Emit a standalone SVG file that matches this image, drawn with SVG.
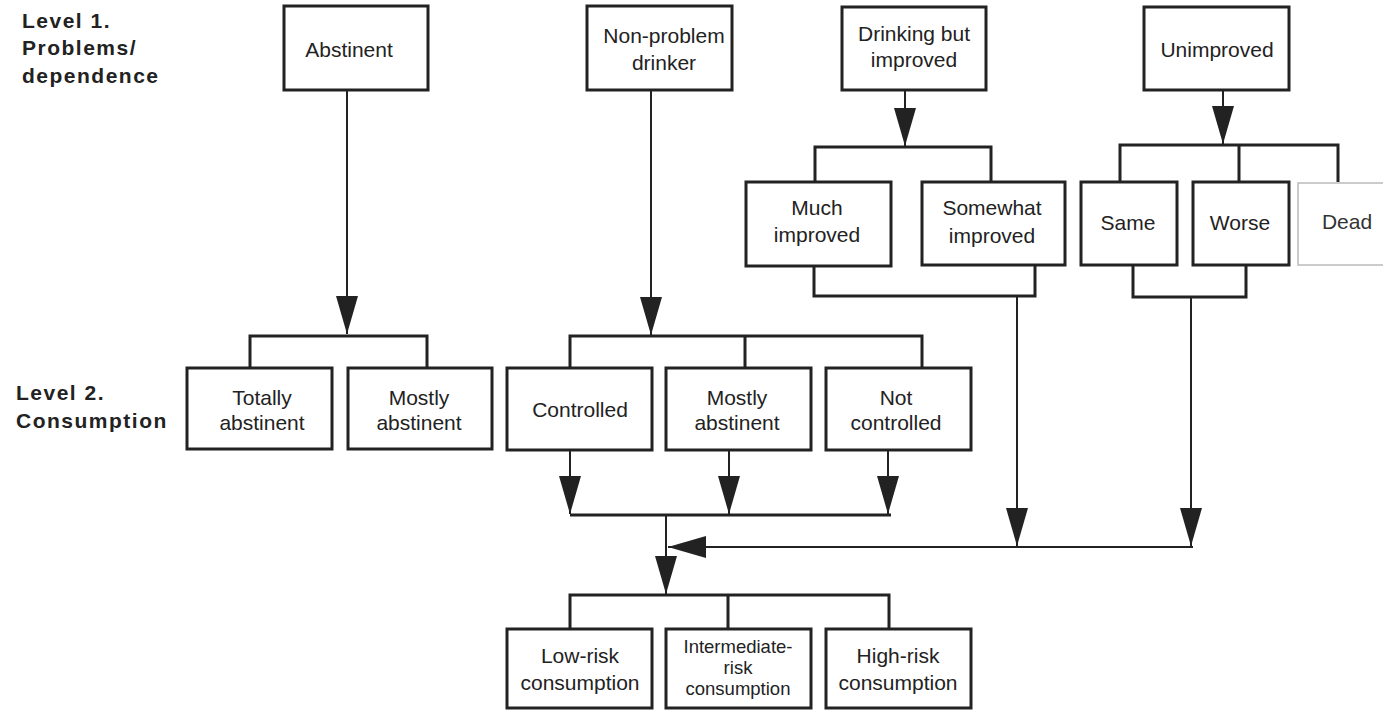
<svg xmlns="http://www.w3.org/2000/svg" width="1383" height="710" viewBox="0 0 1383 710">
<defs>
<style>
.box{fill:#fff;stroke:#222;stroke-width:3}
.dead{fill:#fff;stroke:#bbb;stroke-width:1.5}
.t{font-family:"Liberation Sans",Arial,sans-serif;font-size:21px;fill:#222;text-anchor:middle}
.ts{font-size:18.5px}
.lvl{font-family:"Liberation Sans",Arial,sans-serif;font-size:21px;font-weight:bold;fill:#222;letter-spacing:1.5px}
.ln{fill:none;stroke:#222;stroke-width:3}
.ar{fill:none;stroke:#222;stroke-width:2;marker-end:url(#ah)}
</style>
<marker id="ah" viewBox="0 0 38 22" markerWidth="38" markerHeight="22" refX="38" refY="11" orient="auto" markerUnits="userSpaceOnUse">
<path d="M0,0 L38,11 L0,22 z" fill="#222"/>
</marker>
</defs>
<rect width="1383" height="710" fill="#fff"/>
<g id="labels">
<text class="lvl" x="22" y="28">Level 1.</text>
<text class="lvl" x="22" y="55">Problems/</text>
<text class="lvl" x="22" y="83">dependence</text>
<text class="lvl" x="16" y="400">Level 2.</text>
<text class="lvl" x="16" y="428">Consumption</text>
</g>
<g id="connectors">
<path class="ln" d="M250,368 V336 H427 V368"/>
<path class="ln" d="M570,368 V336 H922 V368 M745,336 V368"/>
<path class="ln" d="M815,182 V147 H991 V182"/>
<path class="ln" d="M1120,182 V145 H1338 V182 M1239,145 V182"/>
<path class="ln" d="M814,266 V296 H1035 V266"/>
<path class="ln" d="M1133,265 V297 H1246 V265"/>
<path class="ln" d="M570,515 H891"/>
<path class="ln" d="M570,629 V595 H889 V629 M728,595 V629"/>
<line class="ar" x1="347" y1="90" x2="347" y2="334"/>
<line class="ar" x1="651" y1="90" x2="651" y2="335"/>
<line class="ar" x1="905" y1="90" x2="905" y2="146"/>
<line class="ar" x1="1223" y1="90" x2="1223" y2="144"/>
<line class="ar" x1="570" y1="450" x2="570" y2="514"/>
<line class="ar" x1="729" y1="450" x2="729" y2="514"/>
<line class="ar" x1="888" y1="450" x2="888" y2="514"/>
<line class="ar" x1="1017" y1="296" x2="1017" y2="546"/>
<line class="ar" x1="1191" y1="297" x2="1191" y2="546"/>
<line style="fill:none;stroke:#222;stroke-width:2" x1="1017" y1="547" x2="1193" y2="547"/>
<line class="ar" x1="1193" y1="547" x2="668" y2="547"/>
<line class="ar" x1="666" y1="515" x2="666" y2="594"/>
</g>
<g id="n-abstinent"><rect class="box" x="284" y="6" width="144" height="84"/><text class="t" x="349" y="57">Abstinent</text></g>
<g id="n-nonproblem"><rect class="box" x="587" y="6" width="145" height="84"/><text class="t" x="664" y="43">Non-problem</text><text class="t" x="664" y="70">drinker</text></g>
<g id="n-drinking"><rect class="box" x="842" y="7" width="144" height="83"/><text class="t" x="914" y="41">Drinking but</text><text class="t" x="914" y="67">improved</text></g>
<g id="n-unimproved"><rect class="box" x="1144" y="7" width="145" height="83"/><text class="t" x="1217" y="57">Unimproved</text></g>
<g id="n-much"><rect class="box" x="746" y="182" width="145" height="84"/><text class="t" x="817" y="215">Much</text><text class="t" x="817" y="242">improved</text></g>
<g id="n-somewhat"><rect class="box" x="922" y="182" width="143" height="83"/><text class="t" x="992" y="215">Somewhat</text><text class="t" x="992" y="243">improved</text></g>
<g id="n-same"><rect class="box" x="1081" y="182" width="96" height="83"/><text class="t" x="1128" y="230">Same</text></g>
<g id="n-worse"><rect class="box" x="1193" y="182" width="96" height="83"/><text class="t" x="1240" y="230">Worse</text></g>
<g id="n-dead"><rect class="dead" x="1298" y="183" width="95" height="82"/><text class="t" x="1347" y="229" style="fill:#333">Dead</text></g>
<g id="n-totally"><rect class="box" x="187" y="368" width="145" height="81"/><text class="t" x="262" y="405">Totally</text><text class="t" x="262" y="430">abstinent</text></g>
<g id="n-mostly1"><rect class="box" x="348" y="368" width="144" height="81"/><text class="t" x="419" y="405">Mostly</text><text class="t" x="419" y="430">abstinent</text></g>
<g id="n-controlled"><rect class="box" x="507" y="368" width="145" height="82"/><text class="t" x="580" y="417">Controlled</text></g>
<g id="n-mostly2"><rect class="box" x="666" y="368" width="145" height="82"/><text class="t" x="737" y="405">Mostly</text><text class="t" x="737" y="430">abstinent</text></g>
<g id="n-notcontrolled"><rect class="box" x="826" y="368" width="145" height="82"/><text class="t" x="896" y="405">Not</text><text class="t" x="896" y="430">controlled</text></g>
<g id="n-lowrisk"><rect class="box" x="507" y="629" width="145" height="79"/><text class="t" x="580" y="663">Low-risk</text><text class="t" x="580" y="690">consumption</text></g>
<g id="n-intermediate"><rect class="box" x="666" y="629" width="145" height="79"/><text class="t ts" x="738" y="653">Intermediate-</text><text class="t ts" x="738" y="674">risk</text><text class="t ts" x="738" y="695">consumption</text></g>
<g id="n-highrisk"><rect class="box" x="826" y="629" width="145" height="79"/><text class="t" x="898" y="663">High-risk</text><text class="t" x="898" y="690">consumption</text></g>
</svg>
